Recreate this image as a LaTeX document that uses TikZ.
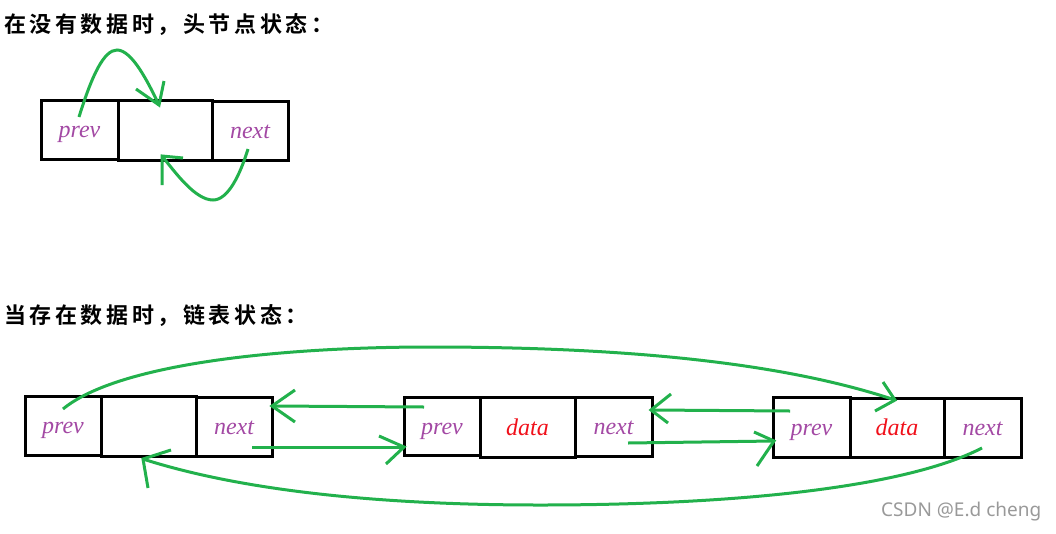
\documentclass[tikz,border=0pt]{standalone}
\usepackage{fontspec}
\setmainfont{Liberation Serif}
\newfontfamily\cjkf{Noto Sans CJK SC Bold}
\newfontfamily\wmf{Noto Sans}
\definecolor{pgreen}{HTML}{22B14C}
\definecolor{ppurple}{HTML}{A349A4}
\definecolor{pred}{HTML}{F0101A}
\def\tsp{\hspace{3.6pt}}
\begin{document}
\begin{tikzpicture}[x=1pt,y=-1pt,
  cell/.style={draw=black,line width=3pt,inner sep=0pt,minimum height=59pt,text height=17pt,text depth=0.6pt,font=\fontsize{24}{24}\selectfont\itshape},
  lbl/.style={text=ppurple},
  dat/.style={text=pred},
  link/.style={draw=pgreen,line width=3pt},
  title/.style={anchor=west,inner sep=0pt,font=\cjkf\fontsize{22}{22}\selectfont}]
\useasboundingbox (0,0) rectangle (1056,533);
% titles
\node[title] (t1) at (4,25) {在\tsp 没\tsp 有\tsp 数\tsp 据\tsp 时\tsp ，\tsp 头\tsp 节\tsp 点\tsp 状\tsp 态\tsp ：};
\node[title] (t2) at (4,316) {当\tsp 存\tsp 在\tsp 数\tsp 据\tsp 时\tsp ，\tsp 链\tsp 表\tsp 状\tsp 态\tsp ：};
% top head node
\node[cell,lbl,minimum width=77pt] (hp) at (79.5,129.5) {prev};
\node[cell,minimum width=94pt,minimum height=60pt] (hm) at (165,130) {};
\node[cell,lbl,minimum width=76pt] (hn) at (250,130.5) {next};
% bottom list
\node[cell,lbl,minimum width=76pt] (ap) at (63,425.5) {prev};
\node[cell,minimum width=95pt,minimum height=60pt] (am) at (148.5,426) {};
\node[cell,lbl,minimum width=76pt] (an) at (234,426.5) {next};
\node[cell,lbl,minimum width=76pt,minimum height=58pt] (bp) at (442,426) {prev};
\node[cell,dat,minimum width=95pt,minimum height=60pt] (bd) at (527.5,427) {data};
\node[cell,lbl,minimum width=77pt] (bn) at (613.5,426.5) {next};
\node[cell,lbl,minimum width=77pt,minimum height=60pt] (cp) at (811.5,427) {prev};
\node[cell,dat,minimum width=94pt] (cd) at (897,427.5) {data};
\node[cell,lbl,minimum width=77pt] (cn) at (982.5,427.5) {next};
% coordinates for hand-drawn connectors
\coordinate (s1) at (79,117);   \coordinate (e1) at (159,105);
\coordinate (s2) at (248,149);  \coordinate (e2) at (162,156);
\coordinate (s3) at (424,407);  \coordinate (e3) at (272,406);
\coordinate (s4) at (252,447);  \coordinate (e4) at (404,447);
\coordinate (s5) at (790,411);  \coordinate (e5) at (651,410);
\coordinate (s6) at (628,443);  \coordinate (e6) at (774,441);
\coordinate (s7) at (63,409);   \coordinate (e7) at (895,400);
\coordinate (s8) at (982,448);  \coordinate (e8) at (143,459);
% top arrows
\draw[link] (s1) .. controls (92,75) and (104,50) .. (117,50) .. controls (132,50) and (148,82) .. (e1);
\draw[link] (136,89) -- (e1) -- (164,81);
\draw[link] (s2) .. controls (240,175) and (228,200) .. (213,200) .. controls (195,200) and (175,172) .. (e2);
\draw[link] (183,158) -- (e2) -- (162,185);
% straight arrows
\draw[link] (s3) -- (e3);
\draw[link] (295,390) -- (e3) -- (295,422);
\draw[link] (s4) -- (e4);
\draw[link] (379,436) -- (e4) -- (386,464);
\draw[link] (s5) -- (e5);
\draw[link] (671,394) -- (e5) -- (668,423);
\draw[link] (s6) -- (e6);
\draw[link] (754,432) -- (e6) -- (757,466);
% long arcs
\draw[link] (s7) .. controls (120,362) and (290,347) .. (430,347) .. controls (640,347) and (790,365) .. (e7);
\draw[link] (883,382) -- (e7) -- (875,411);
\draw[link] (s8) .. controls (900,490) and (720,505) .. (540,505) .. controls (360,505) and (230,487) .. (e8);
\draw[link] (171,450) -- (e8) -- (148,488);
% watermark
\node[anchor=west,inner sep=0pt,text=black!40,font=\wmf\fontsize{19}{19}\selectfont] (wm) at (881,512) {CSDN @E.d cheng};
\end{tikzpicture}
\end{document}
